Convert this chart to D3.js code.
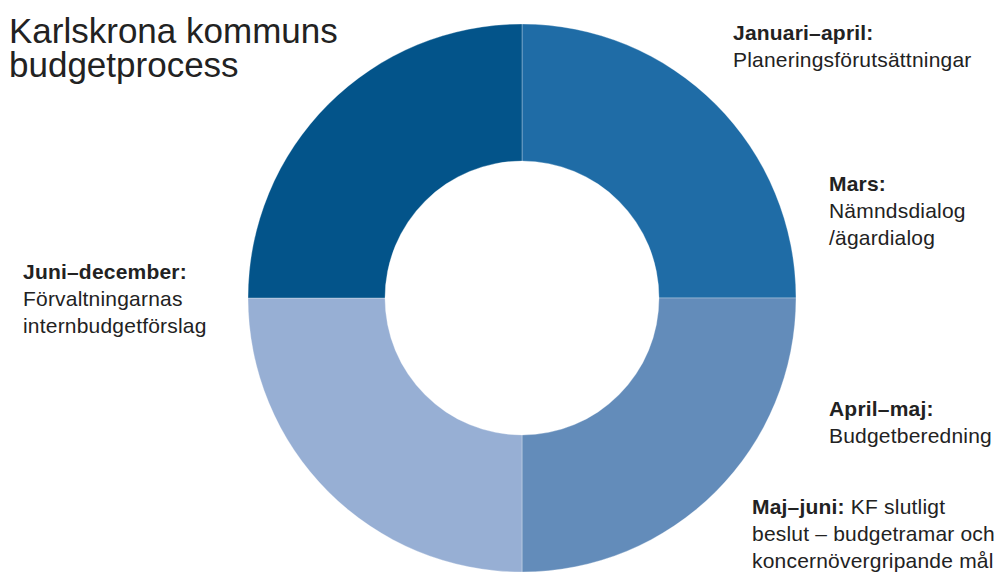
<!DOCTYPE html>
<html>
<head>
<meta charset="utf-8">
<script src="https://cdn.jsdelivr.net/npm/d3@7"></script>
<style>
  body { margin: 0; background: #fff; }
  svg { display: block; font-family: "Liberation Sans", Arial, Helvetica, sans-serif; }
</style>
</head>
<body>
<svg></svg>
<script>
// segments, clockwise from 12 o'clock
let segments = ["Januari–april", "April–maj", "Maj–juni", "Juni–december"];
let segmentValues = [1, 1, 1, 1];
let segmentColors = ["#1f6ca6", "#638cba", "#97afd4", "#03548a"];

let titleLines = ["Karlskrona kommuns", "budgetprocess"];

let labelHeads = ["Januari–april:", "Mars:", "Juni–december:", "April–maj:", "Maj–juni:"];
let labelBodies = [
  ["Planeringsförutsättningar"],
  ["Nämndsdialog", "/ägardialog"],
  ["Förvaltningarnas", "internbudgetförslag"],
  ["Budgetberedning"],
  [" KF slutligt", "beslut – budgetramar och", "koncernövergripande mål"]
];

let width = 1000;
let height = 572;
let cx = 522;
let cy = 298;
let outerR = 274;
let innerR = 137;

// where each label block starts (x, first baseline)
let labelPos = [[733, 40], [829, 191], [23, 279], [829, 416], [752, 514]];
let lineGap = 27;

let svg = d3.select("svg")
  .attr("width", width)
  .attr("height", height);

let pie = d3.pie().sort(null).value((d) => d);
let arc = d3.arc().innerRadius(innerR).outerRadius(outerR);

svg.append("g")
  .attr("transform", "translate(" + cx + "," + cy + ")")
  .selectAll("path")
  .data(pie(segmentValues))
  .enter()
  .append("path")
  .attr("d", arc)
  .attr("fill", (d, i) => segmentColors[i])
  .attr("stroke", "rgba(255,255,255,0.3)")
  .attr("stroke-width", 1);

// title, one text block with a line per tspan
let title = svg.append("text")
  .attr("x", 9)
  .attr("y", 43)
  .attr("font-size", 35)
  .attr("fill", "#222");

title.selectAll("tspan")
  .data(titleLines)
  .enter()
  .append("tspan")
  .attr("x", 9)
  .attr("y", (d, i) => 43 + i * 34)
  .text((d) => d);

// labels
labelHeads.forEach((head, i) => {
  let [x, y] = labelPos[i];
  let body = labelBodies[i];
  let t = svg.append("text")
    .attr("x", x)
    .attr("y", y)
    .attr("font-size", 21)
    .attr("letter-spacing", 0.2)
    .attr("fill", "#222");
  t.append("tspan").attr("font-weight", "bold").text(head);
  // Maj–juni continues on the same line as the heading
  let start = 0;
  if (body[0].startsWith(" ")) {
    t.append("tspan").text(body[0]);
    start = 1;
  }
  body.slice(start).forEach((line, j) => {
    t.append("tspan")
      .attr("x", x)
      .attr("y", y + (j + 1) * lineGap)
      .text(line);
  });
});
</script>
</body>
</html>
